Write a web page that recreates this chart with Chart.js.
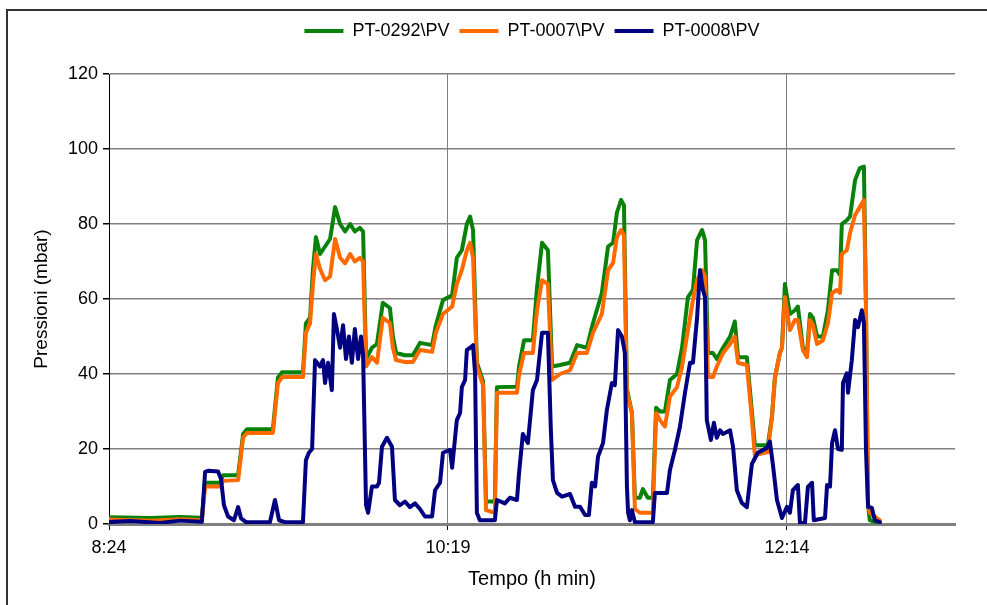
<!DOCTYPE html>
<html>
<head>
<meta charset="utf-8">
<title>Pressioni</title>
<script src="https://cdn.jsdelivr.net/npm/chart.js@4.4.1/dist/chart.umd.min.js"></script>
<style>
  html, body { margin: 0; padding: 0; background: #fff; }
  canvas { display: block; }
</style>
</head>
<body>
<canvas id="pressChart" width="987" height="605"></canvas>
<script>
/* ======================
DATA (minutes from 8:24, mbar)
====================== */

const seriesNames = ["PT-0292\\PV", "PT-0007\\PV", "PT-0008\\PV"];

// shared time base for PT-0292 and PT-0007
const timeA = [
  0, 13.9, 24.1, 31.5, 32.6, 37.7, 38.7, 43.8, 45.5, 46.8,
  55.6, 57.3, 58.7, 65.8, 66.8, 68.2, 69.2, 70.2, 71.6, 73.3,
  75.0, 76.7, 78.4, 80.1, 81.8, 83.4, 85.1, 86.2, 87.2, 89.2,
  90.9, 92.9, 95.3, 96.3, 97.4, 100.4, 103.1, 105.5, 109.6, 110.9,
  113.3, 116.4, 118.0, 119.7, 121.4, 122.5, 123.5, 124.8, 126.9, 127.9,
  130.9, 131.6, 138.4, 139.1, 140.8, 143.8, 145.2, 146.9, 148.9, 150.3,
  153.0, 156.4, 158.8, 162.1, 164.2, 167.2, 169.3, 171.0, 172.3, 173.7,
  174.7, 175.7, 177.4, 178.4, 180.1, 181.1, 182.8, 184.5, 185.6, 186.9,
  188.6, 190.3, 192.7, 194.4, 196.4, 198.1, 199.5, 201.2, 202.2, 203.2,
  204.9, 206.2, 208.3, 210.7, 212.3, 213.4, 216.4, 218.1, 219.1, 223.5,
  224.9, 225.9, 227.6, 228.3, 229.3, 231.0, 232.7, 233.7, 235.4, 236.8,
  237.8, 238.8, 240.2, 242.2, 243.9, 245.3, 246.9, 248.0, 248.6, 250.3,
  251.4, 253.1, 254.7, 256.1, 256.8, 257.5, 258.1, 259.8, 261.5
];

const pt0292 = [
  1.8, 1.6, 1.9, 1.7, 11, 11, 13, 13, 24, 25.3,
  25.3, 39, 40.5, 40.5, 53.5, 55, 68, 76.5, 72, 74,
  76, 84.5, 80, 78, 80, 78, 79, 78, 44, 47,
  48, 59, 57.6, 50, 45.6, 45, 45, 48.3, 47.7, 53,
  59.7, 61, 71, 73, 80, 82, 78.4, 43, 38, 6,
  6, 36.5, 36.6, 42, 49, 49, 63, 75, 73, 42,
  42.4, 43, 47.7, 47, 53.6, 61.6, 74, 75, 83, 86.4,
  85, 36, 29.6, 7, 7, 9.3, 7, 7, 31, 30,
  30, 38.4, 40, 47, 60.5, 62.4, 75.7, 78.4, 75.7, 45.6,
  45.6, 44, 47, 50, 54, 44.5, 44.5, 30, 21, 21,
  28.6, 39, 45.6, 47, 64, 56, 57, 58, 47, 45.6,
  56, 55, 50, 50, 57, 67.7, 67.7, 66.4, 80, 81,
  82, 91.7, 94.9, 95.3, 58, 5, 1, 0.5, 0.3
];

const pt0007 = [
  1.2, 0.9, 1.3, 1.0, 10, 10, 11.5, 11.7, 23, 24.3,
  24.3, 37.5, 39.2, 39.2, 51, 53.5, 64, 72, 68, 65,
  66, 76, 71, 69.5, 72, 70, 71, 70, 42, 44.5,
  43, 55, 53.6, 47, 43.7, 43.2, 43.2, 46.4, 45.9, 51,
  56, 58, 64, 67.7, 73, 75, 71, 42, 37, 3.7,
  3, 35, 35, 39.7, 45.6, 45.6, 57, 65, 64, 38.4,
  40, 41, 45.6, 45.6, 51, 56, 67.7, 69.6, 76.5, 78.4,
  77, 35, 29.6, 4, 3, 3, 3, 3, 29.6, 27.7,
  26, 34, 36.5, 42, 51.7, 59.7, 65, 67.7, 66, 39.2,
  39.2, 42, 45.6, 48, 50, 43, 42.4, 28, 18.4, 19.2,
  28.6, 39, 45.6, 47, 60.5, 51.7, 54.4, 54.4, 46.4, 44.5,
  54.4, 53, 48, 49, 53.6, 61.6, 62.4, 61.6, 72, 73,
  77.6, 82.4, 84.5, 86.4, 58, 5, 3, 2, 1
];

// time base for PT-0008
const timeB = [
  0, 7.1, 17.3, 24.1, 31.5, 32.6, 33.6, 37.0, 38.0, 39.0,
  40.4, 42.4, 43.8, 44.8, 46.5, 54.6, 56.3, 57.7, 59.7, 65.8,
  66.8, 67.8, 68.9, 69.9, 71.6, 72.6, 73.3, 74.3, 75.6, 76.3,
  77.3, 78.4, 79.4, 80.4, 81.4, 82.4, 83.4, 84.5, 85.5, 86.2,
  87.2, 87.9, 89.2, 90.9, 91.6, 92.6, 94.3, 96.0, 97.0, 98.7,
  100.4, 102.1, 103.8, 105.5, 107.2, 109.6, 110.6, 112.3, 113.3, 115.7,
  116.4, 118.0, 119.1, 119.7, 120.8, 121.4, 122.5, 123.5, 124.2, 124.8,
  125.8, 130.9, 131.6, 134.3, 136.0, 138.4, 139.1, 140.4, 142.1, 143.8,
  145.2, 146.9, 148.9, 149.9, 150.6, 152.0, 153.7, 156.4, 158.1, 159.8,
  161.5, 162.8, 163.8, 164.9, 165.9, 167.6, 168.9, 170.6, 171.6, 172.7,
  174.0, 175.0, 175.7, 176.1, 176.7, 177.4, 178.4, 184.5, 185.2, 189.3,
  190.3, 192.0, 193.7, 195.4, 197.1, 198.1, 199.5, 200.5, 201.5, 202.2,
  202.8, 204.2, 205.2, 206.2, 207.3, 208.3, 210.7, 211.7, 213.0, 214.7,
  216.4, 218.1, 220.1, 223.2, 224.2, 225.2, 226.6, 228.3, 230.0, 231.0,
  232.0, 233.7, 234.4, 236.1, 237.1, 238.5, 239.1, 242.9, 243.6, 244.6,
  245.3, 246.3, 247.3, 248.6, 249.0, 250.3, 250.7, 252.0, 253.1, 254.1,
  255.4, 256.1, 256.8, 257.5, 258.8, 259.8, 261.5
];

const pt0008 = [
  0.5, 0.8, 0.3, 0.9, 0.6, 13.9, 14.2, 14, 12, 5,
  2, 1, 4.5, 1.5, 0.5, 0.5, 6.4, 1, 0.5, 0.5,
  17, 19, 20, 43.7, 42, 43.7, 37.6, 43, 35.7, 56,
  52, 47, 53, 44, 50, 43, 52, 44, 50, 45,
  5, 3, 10, 10, 11, 20.6, 23, 20.6, 6.4, 5,
  6, 4.5, 5.5, 4, 2, 2, 9, 11, 19, 19.8,
  15, 27.7, 29.6, 36.5, 38.4, 46.4, 47, 47.7, 40, 3,
  1, 1, 6.4, 5.5, 7, 6.4, 13.6, 24, 21.6, 35.7,
  38.4, 51, 51, 25, 11.7, 8.3, 7.3, 8, 4.6, 4.6,
  2.4, 2.4, 11, 10, 18, 21.6, 30.4, 37.6, 37, 51.7,
  50, 45.6, 10, 3, 1, 3.7, 0.5, 0.5, 8.3, 8.3,
  14.4, 19.8, 26, 35, 43, 43, 55, 67.7, 62.4, 60.5,
  27.7, 22.4, 27, 23, 25, 24, 25, 20.6, 9, 5.6,
  4.5, 16, 19, 20.3, 22, 16, 6.4, 1.6, 4.6, 3,
  9, 10.4, 0.3, 0.3, 9.9, 11, 1, 1.6, 10.4, 10,
  21.6, 25, 20, 19.8, 37.6, 40.2, 35, 43.7, 54.4, 52.5,
  57, 53.6, 19.8, 4.6, 4.3, 1, 0.5
];

const xTickValues = [0, 115, 230];
const xTickLabels = ["8:24", "10:19", "12:14"];
const yTickValues = [0, 20, 40, 60, 80, 100, 120];

/* ======================
HELPERS
====================== */

function toPoints(times, values) {
  return times.map((t, i) => ({ x: t, y: values[i] }));
}

const frameAndBackground = {
  id: "frameAndBackground",
  beforeDraw(chart) {
    const ctx = chart.ctx;
    ctx.save();
    ctx.fillStyle = "#ffffff";
    ctx.fillRect(0, 0, chart.width, chart.height);
    ctx.strokeStyle = "#333333";
    ctx.lineWidth = 2;
    ctx.beginPath();
    ctx.moveTo(7, chart.height);
    ctx.lineTo(7, 10);
    ctx.lineTo(chart.width, 10);
    ctx.stroke();
    ctx.restore();
  }
};

// fixed legend band height, legend centred over the plot area
const legendSpace = {
  id: "legendSpace",
  beforeInit(chart) {
    if (!chart.legend) return;
    const fit = chart.legend.fit;
    chart.legend.fit = function () {
      fit.call(this);
      this.height = 62;
    };
  },
  afterLayout(chart) {
    const lg = chart.legend;
    if (!lg) return;
    lg.left = chart.chartArea.left;
    lg.right = chart.chartArea.right;
    lg.width = lg.right - lg.left;
  }
};

/* ======================
CHART
====================== */

Chart.defaults.font.family = "'Liberation Sans', Arial, sans-serif";
Chart.defaults.font.size = 18;
Chart.defaults.color = "#000";

const colors = ["#0a820a", "#ff6a00", "#000080"];

new Chart(document.getElementById("pressChart"), {
  type: "line",
  data: {
    datasets: [
      { label: seriesNames[0], data: toPoints(timeA, pt0292), order: 3 },
      { label: seriesNames[1], data: toPoints(timeA, pt0007), order: 2 },
      { label: seriesNames[2], data: toPoints(timeB, pt0008), order: 1 }
    ].map((ds, i) => ({
      ...ds,
      borderColor: colors[i],
      backgroundColor: colors[i],
      borderWidth: 4,
      pointRadius: 0,
      tension: 0,
      borderJoinStyle: "round",
      borderCapStyle: "round"
    }))
  },
  options: {
    responsive: false,
    animation: false,
    layout: { padding: { left: 26, right: 32, top: 12, bottom: 10 } },
    plugins: {
      tooltip: { enabled: false },
      legend: {
        position: "top",
        labels: {
          boxWidth: 39,
          boxHeight: 4,
          padding: 10,
          font: { size: 18 },
          sort: (a, b) => a.datasetIndex - b.datasetIndex,
          generateLabels(chart) {
            return Chart.defaults.plugins.legend.labels
              .generateLabels(chart)
              .map(item => ({ ...item, lineWidth: 0 }));
          }
        }
      }
    },
    scales: {
      x: {
        type: "linear",
        min: 0,
        max: 287,
        afterFit: s => { s.height = 71; },
        afterBuildTicks: s => { s.ticks = xTickValues.map(v => ({ value: v })); },
        ticks: {
          padding: 7,
          maxRotation: 0,
          font: { size: 18 },
          callback: (v, i) => xTickLabels[i]
        },
        grid: { color: "#808080", lineWidth: 1, tickColor: "#000", tickLength: 6 },
        border: { color: "#808080", width: 3 },
        title: { display: true, text: "Tempo (h min)", font: { size: 20 }, padding: { top: 0, bottom: 4 } }
      },
      y: {
        min: 0,
        max: 120,
        afterFit: s => { s.width = 83; },
        afterBuildTicks: s => { s.ticks = yTickValues.map(v => ({ value: v })); },
        ticks: { padding: 5, font: { size: 18 } },
        grid: { color: "#808080", lineWidth: 1.5, tickColor: "#000", tickLength: 6 },
        border: { color: "#000", width: 1 },
        title: { display: true, text: "Pressioni (mbar)", font: { size: 19 }, padding: { top: 4, bottom: 0 } }
      }
    }
  },
  plugins: [frameAndBackground, legendSpace]
});
</script>
</body>
</html>
